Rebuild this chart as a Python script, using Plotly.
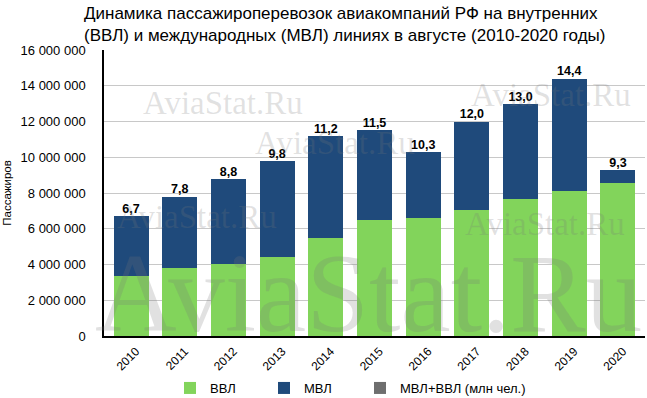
import plotly.graph_objects as go

years = ["2010", "2011", "2012", "2013", "2014", "2015", "2016", "2017", "2018", "2019", "2020"]
vvl = [3360000, 3820000, 4030000, 4440000, 5500000, 6490000, 6620000, 7050000, 7680000, 8130000, 8580000]
mvl = [3340000, 3980000, 4770000, 5360000, 5700000, 5010000, 3680000, 4950000, 5320000, 6270000, 720000]
totals = [6700000, 7800000, 8800000, 9800000, 11200000, 11500000, 10300000, 12000000, 13000000, 14400000, 9300000]
total_labels = ["6,7", "7,8", "8,8", "9,8", "11,2", "11,5", "10,3", "12,0", "13,0", "14,4", "9,3"]
y_ticks = [0, 2000000, 4000000, 6000000, 8000000, 10000000, 12000000, 14000000, 16000000]

GREEN = "#82d45b"
BLUE = "#1f4a7b"
GRAY = "#6e6e6e"
FONT = "Liberation Sans, Arial, Helvetica, sans-serif"

fig = go.Figure()
fig.add_trace(go.Bar(x=years, y=vvl, name="ВВЛ", legend="legend",
                     marker=dict(color=GREEN, line=dict(width=0))))
fig.add_trace(go.Bar(x=years, y=mvl, name="МВЛ", legend="legend2",
                     marker=dict(color=BLUE, line=dict(width=0))))
fig.add_trace(go.Bar(x=years, y=[None] * len(years), name="МВЛ+ВВЛ (млн чел.)", legend="legend3",
                     marker=dict(color=GRAY, line=dict(width=0))))
fig.add_trace(go.Scatter(x=years, y=totals, mode="text", text=total_labels,
                         textposition="top center", showlegend=False, cliponaxis=False,
                         textfont=dict(family=FONT, size=12.5, color="black", weight="bold"),
                         hoverinfo="skip"))

L, R, T, B = 104, 2, 50, 62
W, H = 647, 398
pw, ph = W - L - R, H - T - B

def px(x):
    return (x - L) / pw

def py(y):
    return (T + ph - y) / ph

wm = []
for (x, y, s) in [(223, 103, 33), (335, 143, 33), (551, 95, 33), (197, 217, 33), (545, 224, 33), (368, 292, 113)]:
    wm.append(dict(text="AviaStat.Ru", x=px(x), y=py(y), xref="paper", yref="paper",
                   xanchor="center", yanchor="middle", showarrow=False,
                   font=dict(family="Liberation Serif, Times New Roman, serif", size=s,
                             color="rgba(120,120,120,0.22)")))

def leg(x0):
    return dict(orientation="h", x=px(x0), xanchor="left", y=py(388), yanchor="middle",
                font=dict(size=13), itemwidth=30, bgcolor="rgba(0,0,0,0)")

fig.update_layout(
    width=W, height=H,
    margin=dict(l=L, r=R, t=T, b=B, autoexpand=False),
    barmode="stack",
    bargap=0.28,
    plot_bgcolor="white", paper_bgcolor="white",
    separators=", ",
    font=dict(family=FONT, size=12, color="black"),
    title=dict(text="Динамика пассажироперевозок авиакомпаний РФ на внутренних<br>(ВВЛ) и международных (МВЛ) линиях в августе (2010-2020 годы)",
               x=84 / W, xanchor="left", xref="container",
               y=1 - 19 / H, yanchor="top", yref="container",
               font=dict(family=FONT, size=17, color="black")),
    xaxis=dict(tickangle=-45, showline=True, linecolor="black", linewidth=1.5,
               ticks="", tickfont=dict(size=12), showgrid=False,
               ticklabelshift=5, ticklabelstandoff=2),
    yaxis=dict(range=[0, 16000000], tickvals=y_ticks, tickformat=",d",
               showline=True, linecolor="black", linewidth=1.5,
               showgrid=True, gridcolor="#c8c8c8", gridwidth=1,
               ticks="", ticklabelstandoff=14, tickfont=dict(size=13),
               title=dict(text="Пассажиров", font=dict(size=11.5), standoff=7)),
    legend=leg(170),
    legend2=leg(264),
    legend3=leg(360),
    annotations=wm,
    showlegend=True,
)

fig.write_html("out.html", post_script="document.body.style.margin='0';",
               config={"displayModeBar": False})
